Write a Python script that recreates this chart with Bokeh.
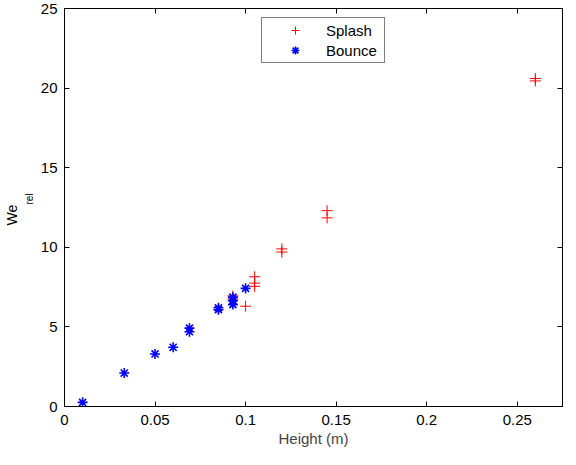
from bokeh.plotting import figure
from bokeh.models import (LinearAxis, Range1d, Legend, LegendItem, FixedTicker,
                          CustomLabelingPolicy, Title)
from bokeh.embed import file_html
from bokeh.resources import INLINE

# Data
splash_x = [0.093, 0.093, 0.1, 0.105, 0.105, 0.105, 0.12, 0.12, 0.145, 0.145, 0.26, 0.26]
splash_y = [6.95, 6.75, 6.3, 7.55, 7.75, 8.15, 9.7, 9.9, 11.85, 12.3, 20.45, 20.6]
bounce_x = [0.01, 0.033, 0.05, 0.06, 0.069, 0.069, 0.085, 0.085, 0.093, 0.093, 0.093, 0.1]
bounce_y = [0.26, 2.1, 3.3, 3.72, 4.7, 4.92, 6.08, 6.2, 6.4, 6.65, 6.87, 7.42]
x_ticks = [0, 0.05, 0.1, 0.15, 0.2, 0.25]
x_tick_labels = ["0", "0.05", "0.1", "0.15", "0.2", "0.25"]
y_ticks = [0, 5, 10, 15, 20, 25]
y_tick_labels = ["0", "5", "10", "15", "20", "25"]
series_names = ["Splash", "Bounce"]

FONT = "Liberation Sans"
W, H = 566, 449

p = figure(width=W, height=H, output_backend="svg", toolbar_location=None,
           x_range=Range1d(0, 0.275), y_range=Range1d(0, 25),
           x_axis_location=None, y_axis_location=None,
           min_border_left=64, min_border_right=1, min_border_top=8, min_border_bottom=38)
p.background_fill_color = "white"
p.border_fill_color = "white"
p.outline_line_color = "black"
p.outline_line_width = 1
p.xgrid.visible = False
p.ygrid.visible = False

hide_all = CustomLabelingPolicy(code="""
    const all = [...indices]
    for (const i of all) indices.unset(i)
    return indices
""")


def make_axis(ticks, labels, show_labels):
    ax = LinearAxis(ticker=FixedTicker(ticks=ticks))
    ax.major_label_overrides = {t: l for t, l in zip(ticks, labels)}
    ax.major_tick_in = 5
    ax.major_tick_out = 0
    ax.minor_tick_in = 0
    ax.minor_tick_out = 0
    ax.axis_line_color = "black"
    ax.major_tick_line_color = "black"
    ax.major_label_text_font = FONT
    ax.major_label_text_color = "black"
    if show_labels:
        ax.major_label_text_font_size = "15px"
        ax.major_label_standoff = 8
    else:
        ax.major_label_text_font_size = "1px"
        ax.major_label_standoff = 0
        ax.major_label_policy = hide_all
    return ax


bottom = make_axis(x_ticks, x_tick_labels, True)
bottom.axis_label = "Height (m)"
bottom.axis_label_text_font = FONT
bottom.axis_label_text_font_size = "15px"
bottom.axis_label_text_font_style = "normal"
bottom.axis_label_standoff = 2
p.add_layout(bottom, "below")

left = make_axis(y_ticks, y_tick_labels, True)
left.major_label_standoff = 7
p.add_layout(left, "left")

p.add_layout(make_axis(x_ticks, x_tick_labels, False), "above")
p.add_layout(make_axis(y_ticks, y_tick_labels, False), "right")

# y-axis label "We" with subscript "rel" (stacked outward from the axis)
p.add_layout(Title(text="rel", align="left", offset=202, standoff=5,
                   text_font=FONT, text_font_size="10px", text_font_style="normal",
                   text_color="black"), "left")
p.add_layout(Title(text="We", align="left", offset=181, standoff=0,
                   text_font=FONT, text_font_size="14px", text_font_style="normal",
                   text_color="black"), "left")

r_splash = p.scatter(splash_x, splash_y, marker="cross", size=11, line_color="#ff0000",
                     line_width=1, fill_color=None)
r_bounce = p.scatter(bounce_x, bounce_y, marker="asterisk", size=10, line_color="#0000ff",
                     line_width=1.6, fill_color=None)

legend = Legend(items=[LegendItem(label=series_names[0], renderers=[r_splash]),
                       LegendItem(label=series_names[1], renderers=[r_bounce])],
                location=(197, 343), margin=0, padding=2, spacing=0,
                glyph_width=62, glyph_height=20, label_height=20, label_width=56,
                label_standoff=0, label_text_font=FONT, label_text_font_size="15px",
                label_text_color="black", border_line_color="black", border_line_width=1,
                background_fill_color="white", background_fill_alpha=1)
p.add_layout(legend)

open("out.html", "w").write(file_html(p, INLINE))
